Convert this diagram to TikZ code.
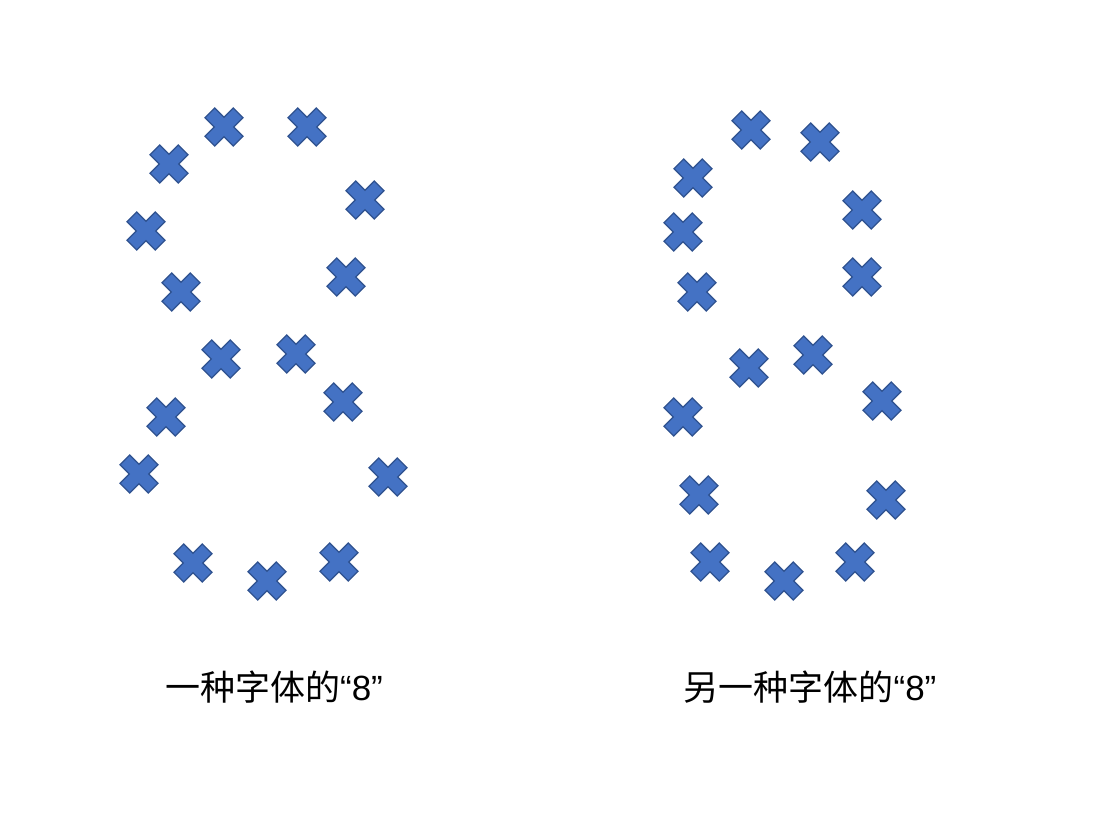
\documentclass[tikz,border=0pt]{standalone}
\usepackage{fontspec}
\newfontfamily\cjk{Noto Sans CJK SC}
\newfontfamily\lat{Liberation Sans}
\newcommand{\qeight}{{\lat “8”}}
\begin{document}
\begin{tikzpicture}[x=1pt,y=-1pt,
  xmark/.pic={\fill[fill={rgb,255:red,68;green,114;blue,196},draw={rgb,255:red,47;green,82;blue,143},line width=1.2pt,rotate=45]
    (-20,-6.9) -- (-6.9,-6.9) -- (-6.9,-20) -- (6.9,-20) -- (6.9,-6.9) -- (20,-6.9) -- (20,6.9) -- (6.9,6.9) -- (6.9,20) -- (-6.9,20) -- (-6.9,6.9) -- (-20,6.9) -- cycle;},
  lbl/.style={font=\cjk\fontsize{35}{40}\selectfont, inner sep=0pt}]
\useasboundingbox[fill=white] (0,0) rectangle (1097,812);
\foreach \x/\y [count=\i] in {224/127,307/127,169/164,365/200,146/231,346/277,181/292,221/359,296/354,166/417,343/402,139/474,388/477,193/563,267/581,339/562}
  \pic (L\i) at (\x,\y) {xmark};
\foreach \x/\y [count=\i] in {751/130,820/142,693/178,862/210,683/232,862/277,697/292,749/368,813/355,683/417,882/401,699/495,886/500,710/562,784/581,855/562}
  \pic (R\i) at (\x,\y) {xmark};
\node[lbl] (t1) at (274,687) {一种字体的\qeight};
\node[lbl] (t2) at (810,687) {另一种字体的\qeight};
\end{tikzpicture}
\end{document}
